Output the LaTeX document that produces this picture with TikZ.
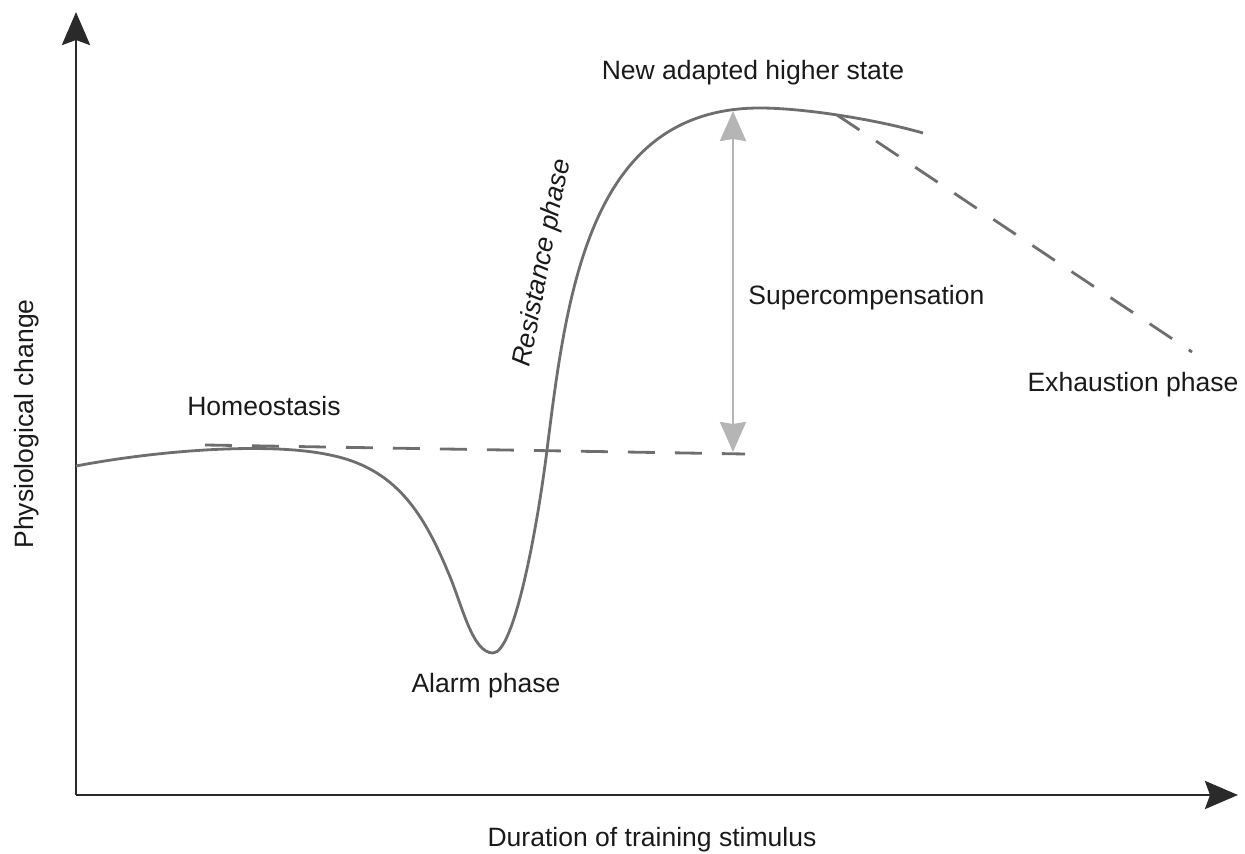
\documentclass[tikz,border=0pt]{standalone}
\usepackage{fontspec}
\setmainfont{Liberation Sans}
\usetikzlibrary{arrows.meta}
\definecolor{curvegray}{HTML}{6E6E6E}
\definecolor{axisgray}{HTML}{2A2A2A}
\definecolor{arrowgray}{HTML}{B5B5B5}
\definecolor{textgray}{HTML}{1A1A1A}
\tikzset{
  lbl/.style={font=\fontsize{15.1pt}{18pt}\selectfont, text=textgray, inner sep=0pt},
  axisline/.style={draw=axisgray, line width=1.7pt, -{Stealth[length=33*0.02cm, width=28*0.02cm, inset=5*0.02cm]}},
  curveline/.style={draw=curvegray, line width=1.6pt},
  dashline/.style={draw=curvegray, line width=1.6pt, dash pattern=on 0.54cm off 0.4cm},
  superarrow/.style={draw=arrowgray, line width=1.7pt, {Stealth[length=30*0.02cm, width=26*0.02cm, inset=2*0.02cm]}-{Stealth[length=30*0.02cm, width=26*0.02cm, inset=2*0.02cm]}}
}
\begin{document}
\begin{tikzpicture}[x=0.02cm, y=-0.02cm]
\useasboundingbox (0,0) rectangle (1245,854);
% axes
\coordinate (O) at (76,795);
\coordinate (ytop) at (76,12);
\coordinate (xend) at (1238,795);
\draw[axisline] (O) -- (ytop);
\draw[axisline] (O) -- (xend);
% main curve
\coordinate (c0) at (76,466);
\coordinate (c1) at (330,455);
\coordinate (c2) at (448,572);
\coordinate (cmin) at (493,653);
\coordinate (c4) at (547,450);
\coordinate (c6) at (760,108);
\coordinate (cend) at (923,133);
\draw[curveline] (c0) .. controls (160,450) and (270,442) .. (c1)
  .. controls (395,468) and (423,512) .. (c2)
  .. controls (462,604) and (472,653) .. (cmin)
  .. controls (514,653) and (537,530) .. (c4)
  .. controls (567,290) and (590,108) .. (c6)
  .. controls (800,108) and (870,118) .. (cend);
% homeostasis dashed line
\coordinate (hstart) at (205,445);
\coordinate (hend) at (745,454);
\draw[dashline] (hstart) -- (hend);
% exhaustion dashed line
\coordinate (estart) at (837,115);
\coordinate (eend) at (1192,352);
\draw[dashline] (estart) -- (eend);
% supercompensation arrow
\coordinate (stop) at (733,111);
\coordinate (sbot) at (733,452);
\draw[superarrow] (stop) -- (sbot);
% labels
\node[lbl] (newstate) at (753,73) {New adapted higher state};
\node[lbl, anchor=west] (supercomp) at (748,298) {Supercompensation};
\node[lbl] (exhaust) at (1133,385) {Exhaustion phase};
\node[lbl] (homeo) at (264,406) {Homeostasis};
\node[lbl] (alarm) at (486,686) {Alarm phase};
\node[lbl, rotate=79, font=\fontsize{15.1pt}{18pt}\selectfont\itshape] (resist) at (543,263) {Resistance phase};
\node[lbl, rotate=90] (ylabel) at (27,424) {Physiological change};
\node[lbl] (xlabel) at (652,840) {Duration of training stimulus};
\end{tikzpicture}
\end{document}
